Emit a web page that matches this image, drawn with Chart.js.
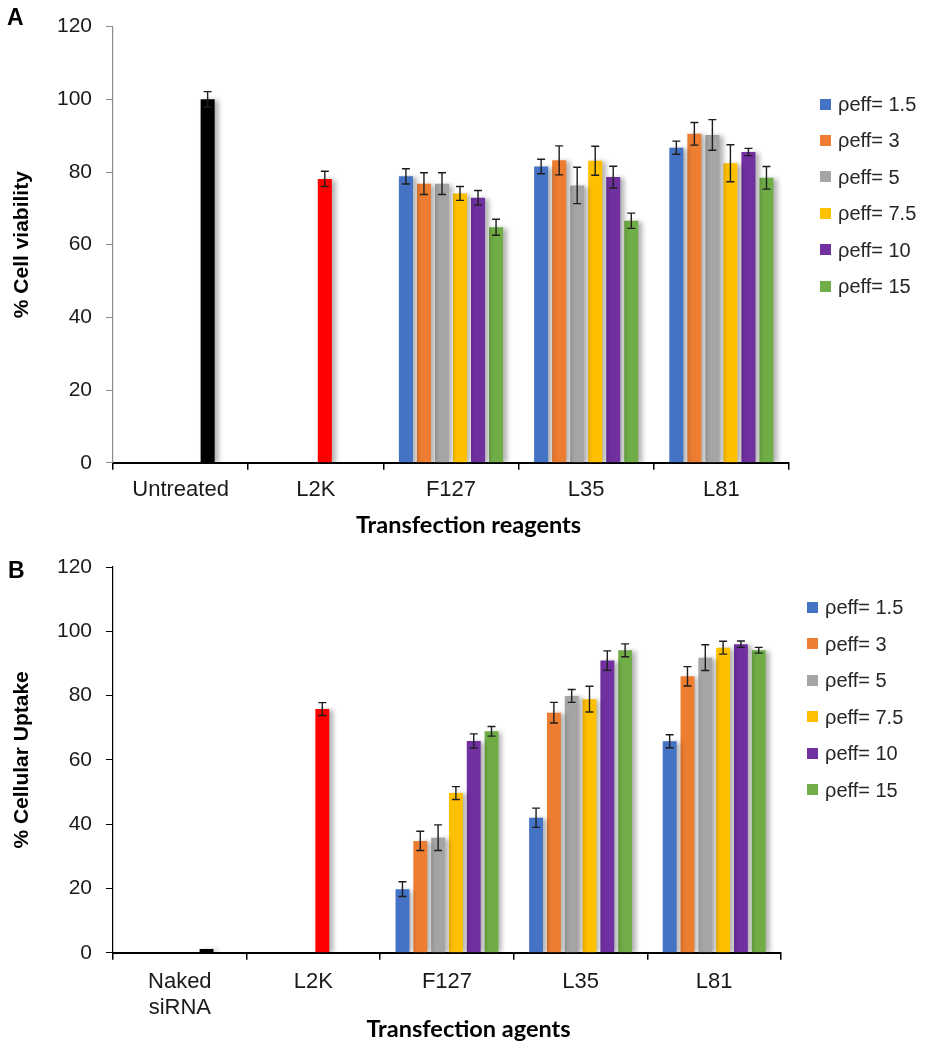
<!DOCTYPE html>
<html>
<head>
<meta charset="utf-8">
<script src="https://cdn.jsdelivr.net/npm/chart.js@4.4.1/dist/chart.umd.min.js"></script>
<style>
body { margin: 0; background: #fff; }
#page { position: relative; width: 937px; height: 1050px; overflow: hidden; font-family: "Liberation Sans", Arial, sans-serif; }
.panel { position: absolute; left: 0; }
.letter { position: absolute; font-weight: bold; font-size: 23px; color: #000; }
.legend { position: absolute; font-size: 20px; color: #262626; }
.legend .sq { position: absolute; width: 11px; height: 11px; }
.legend .tx { position: absolute; white-space: nowrap; line-height: 24px; }
</style>
</head>
<body>
<div id="page">
	<canvas id="chartA" class="panel" style="top:0" width="937" height="540"></canvas>
	<canvas id="chartB" class="panel" style="top:540px" width="937" height="510"></canvas>
	<div class="letter" style="left:7px;top:4px">A</div>
	<div class="letter" style="left:8px;top:557px">B</div>
	<div id="legendA" class="legend" style="left:820px;top:0"></div>
	<div id="legendB" class="legend" style="left:807px;top:0"></div>
</div>
<script>
// series shared by both panels
var seriesLabels = ['ρeff= 1.5', 'ρeff= 3', 'ρeff= 5', 'ρeff= 7.5', 'ρeff= 10', 'ρeff= 15'];
var seriesColors = ['#4472C4', '#ED7D31', '#A5A5A5', '#FFC000', '#7030A0', '#70AD47'];

// controls sit in one ρeff column of the sheet each, coloured on their own
var controlSeries = [4, 3];
var controlColors = ['#000000', '#FF0000'];

// A - cell viability
var viabilityCategories = ['Untreated', 'L2K', 'F127', 'L35', 'L81'];
var viabilityControls = [100, 78.1];
var viabilityControlsErr = [2.1, 2.1];
var viabilityF127 = [78.8, 76.8, 76.8, 74.1, 72.9, 64.8];
var viabilityF127Err = [2.1, 3, 3, 1.9, 2, 2.2];
var viabilityL35 = [81.5, 83.2, 76.3, 83.1, 78.6, 66.6];
var viabilityL35Err = [2, 4, 5, 4, 3, 2.1];
var viabilityL81 = [86.7, 90.5, 90.2, 82.4, 85.5, 78.4];
var viabilityL81Err = [1.8, 3.1, 4.2, 5.1, 1, 3.1];

// B - cellular uptake
var uptakeCategories = [['Naked', 'siRNA'], 'L2K', 'F127', 'L35', 'L81'];
var uptakeControls = [1.2, 75.8];
var uptakeControlsErr = [0, 2];
var uptakeF127 = [19.8, 34.8, 35.8, 49.7, 65.9, 68.9];
var uptakeF127Err = [2.3, 3, 4, 2, 2.2, 1.5];
var uptakeL35 = [42, 74.7, 79.9, 78.9, 90.9, 94.1];
var uptakeL35Err = [3, 3.2, 2, 4, 3, 2];
var uptakeL81 = [65.8, 86, 91.8, 94.9, 96, 94.1];
var uptakeL81Err = [2, 3, 4, 2, 1, 0.9];

var yTicks = [0, 20, 40, 60, 80, 100, 120];

function buildDatasets(controls, controlsErr, f127, f127Err, l35, l35Err, l81, l81Err) {
	var sets = [];
	for (var s = 0; s < seriesLabels.length; s++) {
		var data = [null, null, f127[s], l35[s], l81[s]];
		var errs = [0, 0, f127Err[s], l35Err[s], l81Err[s]];
		var colors = [seriesColors[s], seriesColors[s], seriesColors[s], seriesColors[s], seriesColors[s]];
		for (var c = 0; c < controls.length; c++) {
			if (controlSeries[c] == s) {
				data[c] = controls[c];
				errs[c] = controlsErr[c];
				colors[c] = controlColors[c];
			}
		}
		sets.push({
			label: seriesLabels[s],
			data: data,
			errors: errs,
			yAxisID: 'y',
			backgroundColor: colors,
			borderWidth: 0,
			categoryPercentage: 0.8,
			barPercentage: 0.78
		});
	}
	return sets;
}

var barShadow = {
	id: 'barShadow',
	beforeDatasetsDraw: function (chart) {
		var c = chart.ctx;
		c.save();
		c.shadowColor = 'rgba(0,0,0,0.3)';
		c.shadowBlur = 5;
		c.shadowOffsetX = 4;
		c.shadowOffsetY = 1;
	},
	afterDatasetsDraw: function (chart) {
		chart.ctx.restore();
	}
};

var errorBars = {
	id: 'errorBars',
	afterDatasetsDraw: function (chart) {
		var c = chart.ctx;
		var y = chart.scales.y;
		c.save();
		c.strokeStyle = '#1e1e1e';
		c.lineWidth = 1.4;
		chart.data.datasets.forEach(function (ds, i) {
			var meta = chart.getDatasetMeta(i);
			meta.data.forEach(function (bar, j) {
				var v = ds.data[j], e = ds.errors[j];
				if (v == null || !e) return;
				var top = y.getPixelForValue(v + e);
				var bottom = y.getPixelForValue(v - e);
				c.beginPath();
				c.moveTo(bar.x, top);
				c.lineTo(bar.x, bottom);
				c.moveTo(bar.x - 4, top);
				c.lineTo(bar.x + 4, top);
				c.moveTo(bar.x - 4, bottom);
				c.lineTo(bar.x + 4, bottom);
				c.stroke();
			});
		});
		c.restore();
	}
};

function makeChart(id, o) {
	var ctx = document.getElementById(id).getContext('2d');
	return new Chart(ctx, {
		type: 'bar',
		data: { labels: o.labels, datasets: o.datasets },
		plugins: [barShadow, errorBars],
		options: {
			responsive: false,
			animation: false,
			devicePixelRatio: 1,
			layout: { padding: o.padding },
			plugins: {
				legend: { display: false },
				tooltip: { enabled: false },
				title: {
					display: true,
					position: 'bottom',
					text: o.xTitle,
					color: '#000',
					font: { family: 'Lato', weight: 'bold', size: 23.5 },
					padding: { top: 0, bottom: 0 }
				}
			},
			scales: {
				x: {
					offset: true,
					grid: { offset: true, drawOnChartArea: false, tickLength: 7, color: '#000', lineWidth: 1.5 },
					border: { color: '#000', width: 2 },
					ticks: {
						color: '#1a1a1a',
						font: { family: 'Liberation Sans', size: 22 },
						padding: o.labelPad,
						maxRotation: 0,
						autoSkip: false
					},
					afterFit: function (s) { s.height = o.xHeight; }
				},
				y: {
					min: 0,
					max: 120,
					afterBuildTicks: function (s) { s.ticks = yTicks.map(function (v) { return { value: v }; }); },
					grid: { drawOnChartArea: false, tickLength: 7, color: o.yColor },
					border: { color: o.yColor, width: 1.2 },
					ticks: {
						color: '#1a1a1a',
						font: { family: 'Liberation Sans', size: 21 },
						padding: 14
					},
					title: {
						display: true,
						text: o.yTitle,
						color: '#000',
						font: { family: 'Liberation Sans', weight: 'bold', size: 21 },
						padding: { top: 10, bottom: 0 }
					},
					afterFit: function (s) { s.width = 113; }
				},
				// empty strip on the right where the legend goes
				legendRoom: {
					type: 'linear',
					position: 'right',
					grid: { display: false },
					border: { display: false },
					ticks: { display: false },
					afterFit: function (s) { s.width = o.legendRoom; }
				}
			}
		}
	});
}

function drawLegend(id, firstRow, step) {
	var box = document.getElementById(id);
	for (var i = 0; i < seriesLabels.length; i++) {
		var cy = firstRow + i * step;
		var sq = document.createElement('div');
		sq.className = 'sq';
		sq.style.left = '0px';
		sq.style.top = (cy - 5.5) + 'px';
		sq.style.background = seriesColors[i];
		var tx = document.createElement('div');
		tx.className = 'tx';
		tx.style.left = '18px';
		tx.style.top = (cy - 12) + 'px';
		tx.textContent = seriesLabels[i];
		box.appendChild(sq);
		box.appendChild(tx);
	}
}

makeChart('chartA', {
	labels: viabilityCategories,
	datasets: buildDatasets(viabilityControls, viabilityControlsErr, viabilityF127, viabilityF127Err,
		viabilityL35, viabilityL35Err, viabilityL81, viabilityL81Err),
	padding: { left: 0, right: 0, top: 18, bottom: 0 },
	legendRoom: 148,
	xTitle: 'Transfection reagents',
	yTitle: '% Cell viability',
	yColor: '#8c8c8c',
	labelPad: 7,
	xHeight: 49
});

makeChart('chartB', {
	labels: uptakeCategories,
	datasets: buildDatasets(uptakeControls, uptakeControlsErr, uptakeF127, uptakeF127Err,
		uptakeL35, uptakeL35Err, uptakeL81, uptakeL81Err),
	padding: { left: 0, right: 0, top: 27, bottom: 6 },
	legendRoom: 156,
	xTitle: 'Transfection agents',
	yTitle: '% Cellular Uptake',
	yColor: '#000',
	labelPad: 9,
	xHeight: 63
});

drawLegend('legendA', 104, 36.4);
drawLegend('legendB', 607, 36.5);
</script>
</body>
</html>
